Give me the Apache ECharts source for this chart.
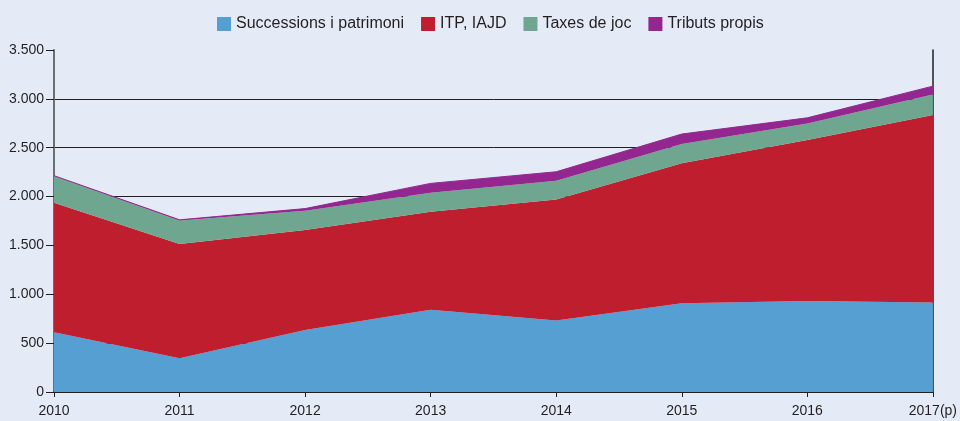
<!DOCTYPE html>
<html><head><meta charset="utf-8">
<script src="https://cdn.jsdelivr.net/npm/echarts@6/dist/echarts.min.js"></script>
<style>html,body{margin:0;padding:0;background:#E4EBF7;overflow:hidden;}#c{width:960px;height:421px;}</style>
</head><body><div id="c"></div>
<script>
const years = ['2010','2011','2012','2013','2014','2015','2016','2017(p)'];
const successions = [611, 345, 634, 842, 733, 907, 931, 917];
const itp = [1326, 1169, 1023, 1003, 1238, 1433, 1647, 1917];
const taxesJoc = [273, 242, 198, 194, 191, 197, 171, 211];
const tributs = [4, 6, 22, 96, 92, 103, 57, 85];
const yTicks = [0, 500, 1000, 1500, 2000, 2500, 3000, 3500];

const FONT = '"Liberation Sans Narrow", "Liberation Sans", sans-serif';
const chart = echarts.init(document.getElementById('c'), null, {width:960, height:421});
function fmt(v){ return String(v).replace(/\B(?=(\d{3})+(?!\d))/g, '.'); }
function mk(name, data, color, lw){
  return {name, type:'line', stack:'t', data, symbol:'none', smooth:false,
    lineStyle:{width:lw, color}, itemStyle:{color}, areaStyle:{color, opacity:1}};
}
chart.setOption({
  backgroundColor:'#E4EBF7',
  animation:false,
  legend:{top:11, left:212, itemWidth:14, itemHeight:14, itemGap:17, icon:'rect',
    textStyle:{fontFamily:FONT, fontSize:16, color:'#231f20'},
    data:['Successions i patrimoni','ITP, IAJD','Taxes de joc','Tributs propis']},
  grid:{left:54, right:22, top:50, bottom:29, containLabel:false},
  xAxis:{type:'category', data:years, boundaryGap:false,
    axisLine:{lineStyle:{color:'#231f20', width:1.5}},
    axisTick:{show:true, length:5, lineStyle:{color:'#231f20'}},
    axisLabel:{fontFamily:FONT, fontSize:14, color:'#231f20', margin:12},
    splitLine:{show:false}},
  yAxis:[{type:'value', min:yTicks[0], max:yTicks[yTicks.length-1], interval:500,
    axisLine:{show:true, lineStyle:{color:'#6d6e71', width:2}},
    axisTick:{show:true, length:8, lineStyle:{color:'#231f20'}},
    axisLabel:{fontFamily:FONT, fontSize:14, color:'#231f20', margin:10, formatter:fmt},
    splitLine:{show:true, showMaxLine:false, lineStyle:{color:'#231f20', width:1}}},
    {type:'value', position:'right', min:0, max:3500, interval:500,
    axisLine:{show:true, lineStyle:{color:'#231f20', width:1.5}},
    axisTick:{show:false}, axisLabel:{show:false}, splitLine:{show:false}}],
  series:[
    mk('Successions i patrimoni', successions, '#569FD3', 0),
    mk('ITP, IAJD', itp, '#BE1E2D', 0),
    mk('Taxes de joc', taxesJoc, '#6FA68F', 0),
    mk('Tributs propis', tributs, '#93278F', 1)
  ]
});
</script></body></html>
